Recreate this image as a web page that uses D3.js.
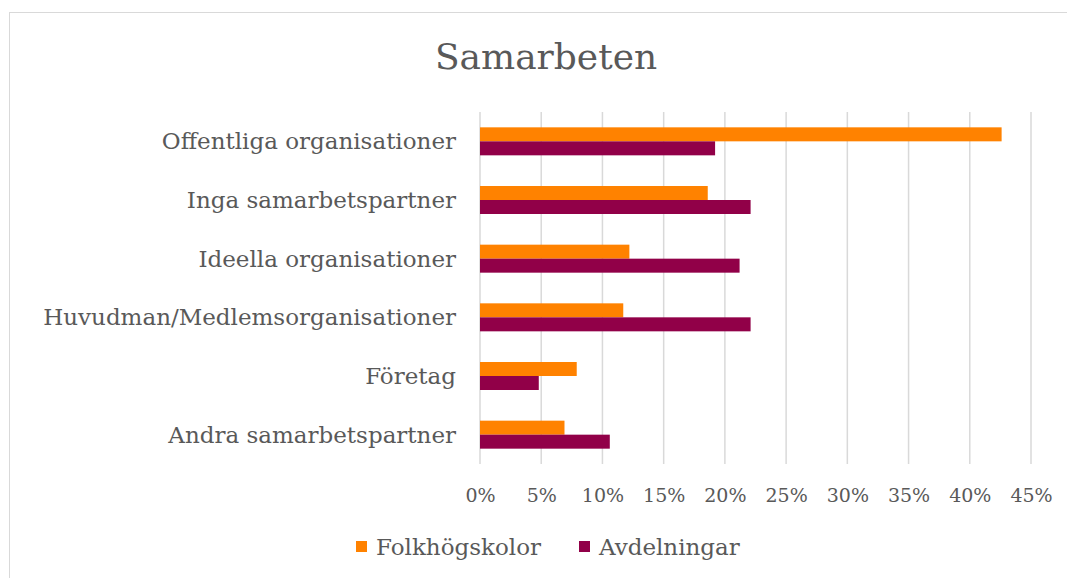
<!DOCTYPE html>
<html>
<head>
<meta charset="utf-8">
<script src="https://cdn.jsdelivr.net/npm/d3@7"></script>
<style>
  body { margin: 0; background: #fff; }
  text { font-family: "DejaVu Serif", serif; fill: #595959; }
</style>
</head>
<body>
<div id="chart"></div>
<script>
// données
var categories = ["Offentliga organisationer", "Inga samarbetspartner", "Ideella organisationer",
    "Huvudman/Medlemsorganisationer", "Företag", "Andra samarbetspartner"];
var folkhogskolor = [0.426, 0.186, 0.122, 0.117, 0.079, 0.069];
var avdelningar = [0.192, 0.221, 0.212, 0.221, 0.048, 0.106];
var seriesNames = ["Folkhögskolor", "Avdelningar"];
var seriesColors = ["#ff8200", "#910048"];
var ticks = [0, 0.05, 0.10, 0.15, 0.20, 0.25, 0.30, 0.35, 0.40, 0.45];

var width = 1067,
    height = 578;

var svg = d3.select("#chart").append("svg")
    .attr("width", width)
    .attr("height", height);

// cadre
svg.append("rect")
    .attr("x", 9.5).attr("y", 12.5)
    .attr("width", 1080).attr("height", 600)
    .attr("fill", "none")
    .attr("stroke", "#d9d9d9");

svg.append("text")
    .attr("x", 546).attr("y", 69)
    .attr("text-anchor", "middle")
    .style("font-size", "36px")
    .text("Samarbeten");

var x = d3.scaleLinear().domain([0, 0.45]).range([480, 1031]);
var y = d3.scaleBand().domain(categories).range([112, 464]);

// grille verticale
svg.append("g").selectAll("line")
    .data(ticks)
    .join("line")
    .attr("x1", d => x(d)).attr("x2", d => x(d))
    .attr("y1", 112).attr("y2", 464)
    .attr("stroke", "#d9d9d9")
    .attr("stroke-width", 1.5);

var barH = 14;
var g = svg.append("g");

g.selectAll(".b0")
    .data(folkhogskolor)
    .join("rect")
    .attr("x", x(0))
    .attr("y", (d, i) => y(categories[i]) + y.bandwidth() / 2 - barH)
    .attr("width", d => x(d) - x(0))
    .attr("height", barH)
    .attr("fill", seriesColors[0]);

g.selectAll(".b1")
    .data(avdelningar)
    .join("rect")
    .attr("x", x(0))
    .attr("y", (d, i) => y(categories[i]) + y.bandwidth() / 2)
    .attr("width", d => x(d) - x(0))
    .attr("height", barH)
    .attr("fill", seriesColors[1]);

// étiquettes des catégories
svg.append("g").selectAll("text")
    .data(categories)
    .join("text")
    .attr("x", 456)
    .attr("y", d => y(d) + y.bandwidth() / 2)
    .attr("dy", "0.35em")
    .attr("text-anchor", "end")
    .style("font-size", "23px")
    .text(d => d);

// axe x
var xAxis = d3.axisBottom(x).tickValues(ticks).tickFormat(d3.format(".0%")).tickSize(0).tickPadding(0);
var ax = svg.append("g").attr("transform", "translate(0,495)").call(xAxis);
ax.select(".domain").remove();
ax.selectAll("text").style("font-size", "19px").attr("dy", "0.35em").attr("fill", null);

// légende
var legendX = [356, 579];
var legend = svg.append("g").selectAll("g")
    .data(seriesNames)
    .join("g")
    .attr("transform", (d, i) => "translate(" + legendX[i] + ",541)");
legend.append("rect")
    .attr("width", 11).attr("height", 11)
    .attr("fill", (d, i) => seriesColors[i]);
legend.append("text")
    .attr("x", 20).attr("y", 6)
    .attr("dy", "0.35em")
    .style("font-size", "23px")
    .text(d => d);
</script>
</body>
</html>
